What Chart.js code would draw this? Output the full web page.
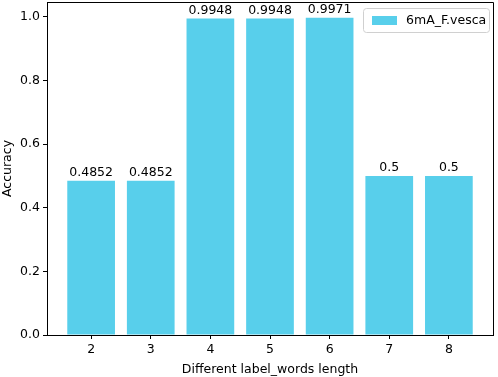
<!DOCTYPE html>
<html>
<head>
<meta charset="utf-8">
<script src="https://cdn.jsdelivr.net/npm/chart.js@4"></script>
<style>
  html, body { margin: 0; padding: 0; background: #fff; }
  #wrap { width: 498px; height: 377px; position: relative; }
</style>
</head>
<body>
<div id="wrap"><canvas id="c"></canvas></div>
<script>
// label_words length vs accuracy for one dataset
const lengths = [2, 3, 4, 5, 6, 7, 8];
const accuracy = [0.4852, 0.4852, 0.9948, 0.9948, 0.9971, 0.5, 0.5];
const valueLabels = ["0.4852", "0.4852", "0.9948", "0.9948", "0.9971", "0.5", "0.5"];
const seriesName = "6mA_F.vesca";
const yTicks = [0.0, 0.2, 0.4, 0.6, 0.8, 1.0];

const BAR = "#58cfeb";
const FONT = "'DejaVu Sans', sans-serif";

// value text above each bar
const barLabels = {
  id: "barLabels",
  afterDatasetsDraw(chart) {
    const ctx = chart.ctx;
    const meta = chart.getDatasetMeta(0);
    ctx.save();
    ctx.font = "12.5px " + FONT;
    ctx.fillStyle = "#000";
    ctx.textAlign = "center";
    ctx.textBaseline = "bottom";
    meta.data.forEach((bar, i) => {
      ctx.fillText(valueLabels[i], bar.x, bar.y - 2);
    });
    ctx.restore();
  },
};

// closed frame + legend box in the upper right
const frameAndLegend = {
  id: "frameAndLegend",
  afterDraw(chart) {
    const { ctx, chartArea: a } = chart;
    ctx.save();
    ctx.strokeStyle = "#000";
    ctx.lineWidth = 1;
    ctx.beginPath();
    ctx.moveTo(a.left, a.top + 0.5);
    ctx.lineTo(a.right + 0.5, a.top + 0.5);
    ctx.lineTo(a.right + 0.5, a.bottom);
    ctx.stroke();

    const w = 126, h = 24;
    const x = a.right - 4 - w, y = a.top + 6;
    ctx.fillStyle = "rgba(255,255,255,0.8)";
    ctx.strokeStyle = "#d0d0d0";
    ctx.beginPath();
    ctx.roundRect(x + 0.5, y + 0.5, w, h, 3);
    ctx.fill();
    ctx.stroke();
    ctx.fillStyle = BAR;
    ctx.fillRect(x + 9, y + 8, 25, 9);
    ctx.fillStyle = "#000";
    ctx.font = "12.5px " + FONT;
    ctx.textBaseline = "middle";
    ctx.fillText(seriesName, x + 43, y + h / 2 + 1);
    ctx.restore();
  },
};

new Chart(document.getElementById("c"), {
  type: "bar",
  data: {
    datasets: [{
      label: seriesName,
      data: lengths.map((l, i) => ({ x: l, y: accuracy[i] })),
      backgroundColor: BAR,
      borderWidth: 0,
      barPercentage: 0.8,
      categoryPercentage: 1,
    }],
  },
  options: {
    responsive: true, maintainAspectRatio: false, animation: false,
    layout: { padding: { top: 2, right: 5, left: 0, bottom: 0 } },
    plugins: { legend: { display: false }, tooltip: { enabled: false } },
    scales: {
      x: {
        type: "linear", min: 1.26, max: 8.74, offset: false,
        afterFit: (s) => { s.height = 42; s.paddingLeft = 0; s.paddingRight = 0; },
        afterBuildTicks: (s) => { s.ticks = lengths.map((v) => ({ value: v })); },
        grid: { drawOnChartArea: false, color: "#000", tickLength: 4, offset: false },
        border: { color: "#000", width: 1 },
        ticks: { color: "#000", font: { family: FONT, size: 12.5 }, padding: 3 },
        title: { display: true, text: "Different label_words length", color: "#000",
          font: { family: FONT, size: 12.5 }, padding: { top: 2, bottom: 0 } },
      },
      y: {
        min: 0, max: 1.047,
        afterFit: (s) => { s.width = 47; s.paddingTop = 0; s.paddingBottom = 0; },
        afterBuildTicks: (s) => { s.ticks = yTicks.map((v) => ({ value: v })); },
        grid: { drawOnChartArea: false, color: "#000", tickLength: 4 },
        border: { color: "#000", width: 1 },
        ticks: { color: "#000", font: { family: FONT, size: 12.5 }, padding: 3,
          callback: (v) => v.toFixed(1) },
        title: { display: true, text: "Accuracy", color: "#000",
          font: { family: FONT, size: 12.5 }, padding: { top: 0, bottom: 2 } },
      },
    },
  },
  plugins: [barLabels, frameAndLegend],
});
</script>
</body>
</html>
